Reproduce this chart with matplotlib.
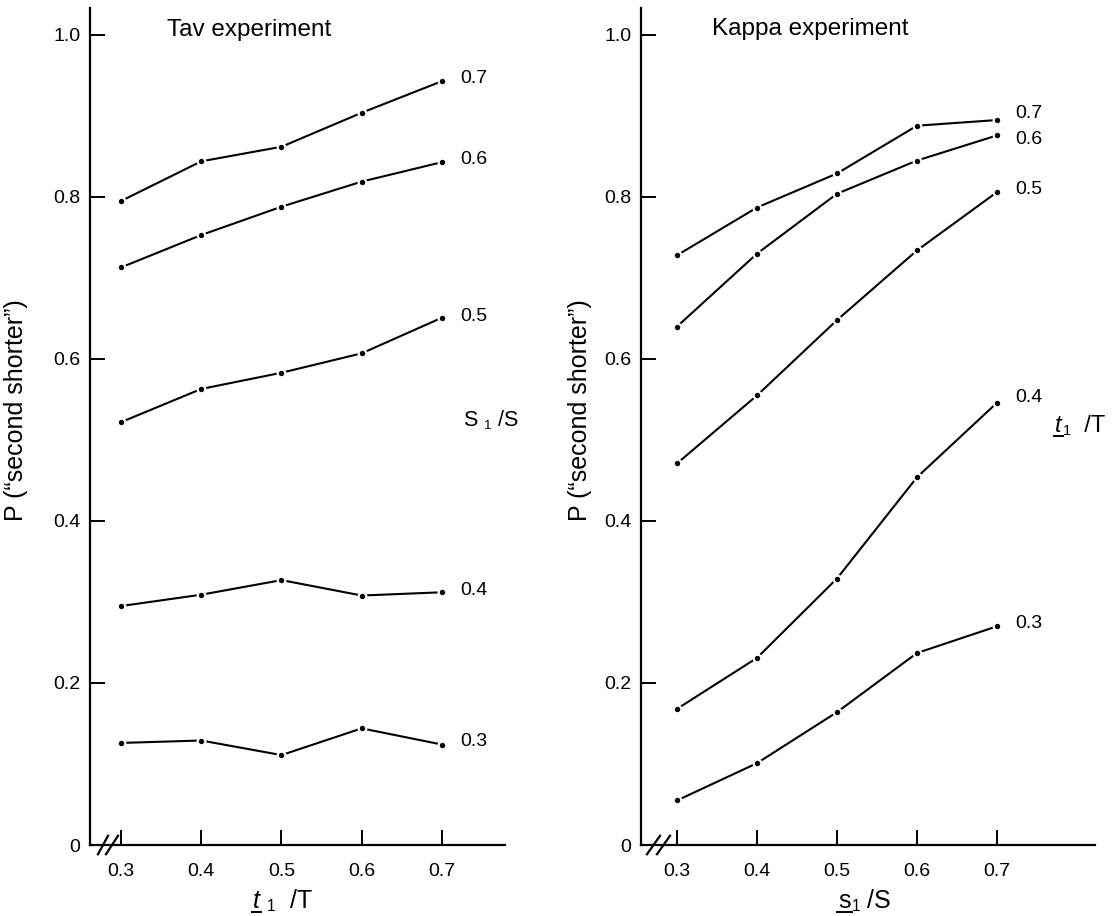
import matplotlib
matplotlib.use('Agg')
import matplotlib.pyplot as plt
from matplotlib.lines import Line2D
from matplotlib.transforms import IdentityTransform

plt.rcParams['font.family'] = ['Liberation Sans', 'DejaVu Sans']

# ---------------- data ----------------
x_levels = [0.3, 0.4, 0.5, 0.6, 0.7]
x_ticklabels = ['0.3', '0.4', '0.5', '0.6', '0.7']
y_ticks = [0, 0.2, 0.4, 0.6, 0.8, 1.0]
y_ticklabels = ['0', '0.2', '0.4', '0.6', '0.8', '1.0']

series_labels = ['0.7', '0.6', '0.5', '0.4', '0.3']

tav_07 = [0.795, 0.844, 0.862, 0.904, 0.943]
tav_06 = [0.713, 0.753, 0.788, 0.819, 0.843]
tav_05 = [0.522, 0.563, 0.583, 0.607, 0.651]
tav_04 = [0.295, 0.309, 0.327, 0.308, 0.312]
tav_03 = [0.126, 0.129, 0.111, 0.144, 0.124]

kappa_07 = [0.728, 0.787, 0.829, 0.888, 0.895]
kappa_06 = [0.640, 0.730, 0.804, 0.845, 0.876]
kappa_05 = [0.471, 0.555, 0.648, 0.734, 0.806]
kappa_04 = [0.168, 0.231, 0.329, 0.454, 0.546]
kappa_03 = [0.055, 0.101, 0.164, 0.237, 0.270]

tav_series = [tav_07, tav_06, tav_05, tav_04, tav_03]
kappa_series = [kappa_07, kappa_06, kappa_05, kappa_04, kappa_03]

# label vertical nudges (points)
tav_label_dy = [2, 2, 1, 1, 2]
kappa_label_dy = [5, -3, 2, 4, 2]

ylabel_text = 'P (\u201csecond shorter\u201d)'
tav_title = 'Tav experiment'
kappa_title = 'Kappa experiment'

# ---------------- figure ----------------
W, H = 1113, 916
fig = plt.figure(figsize=(W / 100, H / 100), dpi=100)


def px_axes(left, right, top, bottom):
    return fig.add_axes([left / W, (H - bottom) / H, (right - left) / W, (bottom - top) / H])


axL = px_axes(90, 505, 8, 845)
axR = px_axes(641, 1095, 8, 845)

TICK_FS = 14


def style(ax, xlim):
    ax.set_xlim(*xlim)
    ax.set_ylim(0, 1.0333)
    for s in ['top', 'right']:
        ax.spines[s].set_visible(False)
    for s in ['left', 'bottom']:
        ax.spines[s].set_linewidth(1.6)
    ax.set_xticks(x_levels)
    ax.set_xticklabels(x_ticklabels)
    ax.set_yticks(y_ticks)
    ax.set_yticklabels(y_ticklabels)
    ax.tick_params(direction='in', length=11, width=1.4, labelsize=TICK_FS, colors='black')
    ax.tick_params(axis='y', pad=7)
    ax.tick_params(axis='x', pad=13)


def draw(ax, series, dys):
    for vals, lab, dy in zip(series, series_labels, dys):
        ax.plot(x_levels, vals, color='black', lw=1.5, marker='o', ms=5.5,
                mfc='black', mec='white', mew=1.6, solid_capstyle='butt')
        ax.annotate(lab, xy=(x_levels[-1], vals[-1]), xytext=(13, dy),
                    textcoords='offset points', va='center', ha='left',
                    fontsize=TICK_FS)


def break_marks(ax, px_w, segs):
    for (x0, x1) in segs:
        ax.plot([x0 / px_w, x1 / px_w], [-0.011, 0.011], transform=ax.transAxes,
                color='black', lw=1.6, clip_on=False)


underlined = []


def composite(ax, x, y, base, sub, rest, fs, base_style='normal', underline=False,
              sub_gap=1.0):
    t1 = ax.text(x, y, base, transform=ax.transAxes, fontsize=fs, style=base_style,
                 va='baseline', ha='left')
    t2 = ax.annotate(sub, xy=(1, 0), xycoords=t1, xytext=(sub_gap, -1),
                     textcoords='offset points', fontsize=fs * 0.62,
                     va='bottom', ha='left')
    ax.annotate(rest, xy=(1, 0), xycoords=t2, xytext=(0, 1),
                textcoords='offset points', fontsize=fs, va='bottom', ha='left')
    if underline:
        underlined.append(t1)


style(axL, (0.2614, 0.7785))
style(axR, (0.255, 0.8225))

draw(axL, tav_series, tav_label_dy)
draw(axR, kappa_series, kappa_label_dy)

break_marks(axL, 415, [(8, 18), (16, 28)])
break_marks(axR, 454, [(6, 19), (16, 29)])

# titles
axL.text(0.1855, 0.9665, tav_title, transform=axL.transAxes,
         fontsize=17.5, va='baseline', ha='left')
axR.text(0.156, 0.9677, kappa_title, transform=axR.transAxes,
         fontsize=17.5, va='baseline', ha='left')

# inner parameter labels
composite(axL, 0.899, 0.5006, 'S', '1', ' /S', 15.5, sub_gap=5)
composite(axR, 0.912, 0.4934, 't', '1', '  /T', 17, base_style='italic', underline=True)

# axis labels
composite(axL, 0.393, -0.0753, 't', '1', '  /T', 18, base_style='italic', underline=True,
          sub_gap=5)
composite(axR, 0.434, -0.0753, 's', '1', ' /S', 18, underline=True)

axL.set_ylabel(ylabel_text, fontsize=18)
axL.yaxis.set_label_coords(-0.149, 0.52)
axR.set_ylabel(ylabel_text, fontsize=18)
axR.yaxis.set_label_coords(-0.108, 0.52)

# underline selected glyphs (measured after layout)
fig.canvas.draw()
for t in underlined:
    bb = t.get_window_extent()
    fig.add_artist(Line2D([bb.x0 - 1, bb.x1 + 1], [bb.y0 + 1, bb.y0 + 1],
                          transform=IdentityTransform(), color='black', lw=1.4))

fig.savefig('out.png', dpi=100, facecolor='white')
